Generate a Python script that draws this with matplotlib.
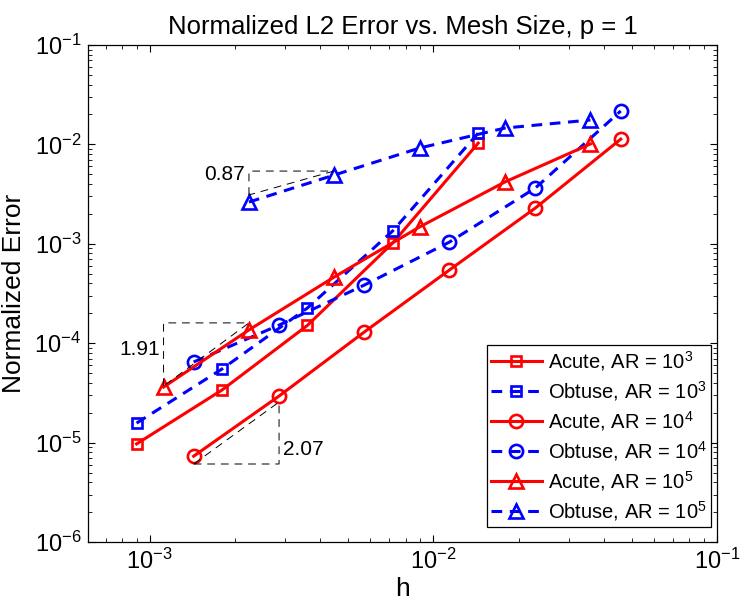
import math
import matplotlib
import matplotlib.pyplot as plt

matplotlib.use("Agg")

plt.rcParams["font.family"] = ["Liberation Sans", "DejaVu Sans"]
plt.rcParams["mathtext.fontset"] = "custom"
plt.rcParams["mathtext.rm"] = "Liberation Sans"
plt.rcParams["mathtext.it"] = "Liberation Sans:italic"
plt.rcParams["mathtext.bf"] = "Liberation Sans:bold"

# mesh sizes for each refinement family
h_square = [9.0e-4, 1.8e-3, 3.6e-3, 7.2e-3, 1.44e-2]
h_circle = [1.43e-3, 2.86e-3, 5.72e-3, 1.14e-2, 2.29e-2, 4.58e-2]
h_triangle = [1.12e-3, 2.24e-3, 4.48e-3, 8.96e-3, 1.79e-2, 3.58e-2]
h_triangle_obtuse = [2.24e-3, 4.48e-3, 8.96e-3, 1.79e-2, 3.58e-2]

# normalized L2 errors
acute_ar3 = [9.7e-6, 3.38e-5, 1.51e-4, 1.02e-3, 1.03e-2]
obtuse_ar3 = [1.57e-5, 5.5e-5, 2.26e-4, 1.35e-3, 1.30e-2]
acute_ar4 = [7.3e-6, 2.94e-5, 1.30e-4, 5.45e-4, 2.29e-3, 1.13e-2]
obtuse_ar4 = [6.47e-5, 1.52e-4, 3.85e-4, 1.04e-3, 3.64e-3, 2.17e-2]
acute_ar5 = [3.62e-5, 1.36e-4, 4.64e-4, 1.48e-3, 4.19e-3, 1.01e-2]
obtuse_ar5 = [2.63e-3, 4.92e-3, 9.2e-3, 1.46e-2, 1.76e-2]

# slope triangles: (x_left, x_right, y_low, y_high, label)
slope_087 = (2.24e-3, 4.46e-3, 3.10e-3, 5.39e-3, "0.87")
slope_191 = (1.12e-3, 2.24e-3, 3.7e-5, 1.60e-4, "1.91")
slope_207 = (1.43e-3, 2.86e-3, 6.09e-6, 2.56e-5, "2.07")

fig = plt.figure(figsize=(7.4, 6.07), dpi=100)
ax = fig.add_axes([0.1193, 0.1071, 0.8496, 0.8188])

dash = (0, (3.5, 2.5))
lw = 2.2
mew = 1.9

ax.loglog(h_square, acute_ar3, color="red", lw=lw, marker="s", ms=7.5, mew=mew,
          mfc="none", label="Acute, AR = $10^3$")
ax.loglog(h_square, obtuse_ar3, color="blue", lw=lw, ls=dash, marker="s", ms=7.5, mew=mew,
          mfc="none", label="Obtuse, AR = $10^3$")
ax.loglog(h_circle, acute_ar4, color="red", lw=lw, marker="o", ms=9.5, mew=mew,
          mfc="none", label="Acute, AR = $10^4$")
ax.loglog(h_circle, obtuse_ar4, color="blue", lw=lw, ls=dash, marker="o", ms=9.5, mew=mew,
          mfc="none", label="Obtuse, AR = $10^4$")
ax.loglog(h_triangle, acute_ar5, color="red", lw=lw, marker="^", ms=10.5, mew=mew,
          mfc="none", label="Acute, AR = $10^5$")
ax.loglog(h_triangle_obtuse, obtuse_ar5, color="blue", lw=lw, ls=dash, marker="^", ms=10.5, mew=mew,
          mfc="none", label="Obtuse, AR = $10^5$")

tri_style = dict(color="black", lw=0.7, ls=(0, (8, 6)))

# 0.87: corner at top-left
x0, x1, y0, y1, txt = slope_087
ax.plot([x0, x0, x1, x0], [y0, y1, y1, y0], **tri_style)
ax.text(x0 * 0.97, y1 * 0.92, txt, ha="right", va="center", fontsize=15)

# 1.91: corner at top-left
x0, x1, y0, y1, txt = slope_191
ax.plot([x0, x0, x1, x0], [y0, y1, y1, y0], **tri_style)
ax.text(x0 * 0.97, 10 ** ((4 * math.log10(y1) + 3 * math.log10(y0)) / 7),
        txt, ha="right", va="center", fontsize=15)

# 2.07: corner at bottom-right
x0, x1, y0, y1, txt = slope_207
ax.plot([x0, x1, x1, x0], [y0, y0, y1, y0], **tri_style)
ax.text(x1 * 1.03, y0 * 1.4, txt, ha="left", va="center", fontsize=15)

ax.set_xlim(6.08e-4, 1e-1)
ax.set_ylim(1e-6, 1e-1)

ax.set_title("Normalized L2 Error vs. Mesh Size, p = 1", fontsize=18.5, pad=8)
ax.set_xlabel("h", fontsize=19, labelpad=2)
ax.set_ylabel("Normalized Error", fontsize=19, labelpad=6)

ax.tick_params(which="both", direction="in", top=True, right=True, labelsize=17)
ax.tick_params(which="major", length=5, width=0.8, pad=5)
ax.tick_params(which="minor", length=3, width=0.6)
for s in ax.spines.values():
    s.set_linewidth(0.9)

leg = ax.legend(loc="lower right", bbox_to_anchor=(0.9905, 0.030), borderaxespad=0,
                fontsize=14.5, numpoints=1, handlelength=2.5, handletextpad=0.3,
                labelspacing=0.30, borderpad=0.22,
                fancybox=False, edgecolor="black", framealpha=1)
leg.get_frame().set_linewidth(0.9)

fig.savefig("out.png", dpi=100)
